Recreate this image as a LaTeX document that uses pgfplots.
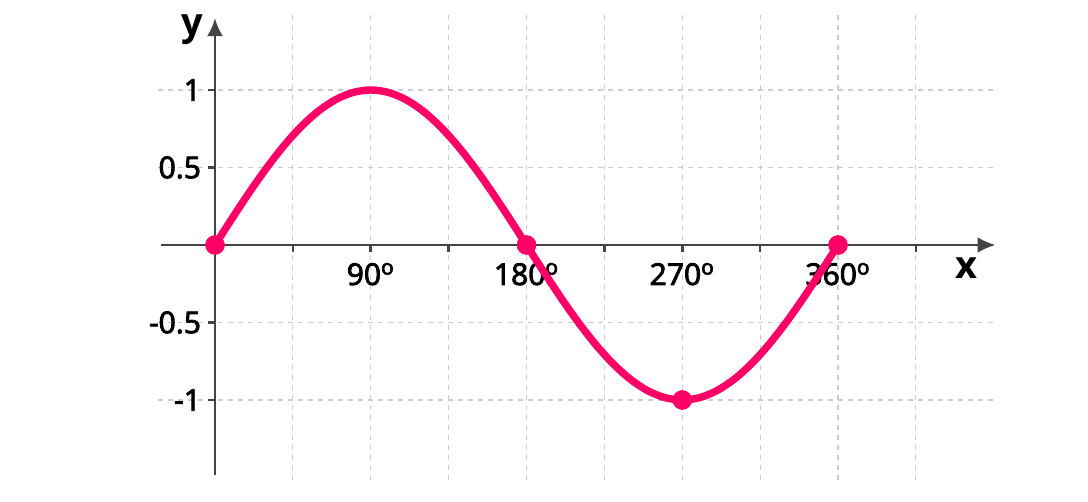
\documentclass[border=0pt]{standalone}
\usepackage{fontspec}
\setmainfont{Open Sans}
\newfontfamily\semib{Open Sans}[FakeBold=3]
\usepackage{pgfplots}
\pgfplotsset{compat=1.18}
\usetikzlibrary{arrows.meta}
\definecolor{curve}{RGB}{255,0,102}
\definecolor{axisgray}{RGB}{68,68,68}
\definecolor{gridgray}{RGB}{204,204,204}

\begin{document}
\begin{tikzpicture}
\begin{axis}[
    anchor=origin, at={(0,0)},
    x=0.8653pt, y=77.5pt,
    xmin=-33, xmax=451,
    ymin=-1.515, ymax=1.515,
    axis lines=middle,
    axis line style={draw=axisgray, line width=1.3pt, -{Latex[length=9pt,width=8pt]}},
    x axis line style={shorten <=1.5pt},
    y axis line style={shorten <=2.5pt, shorten >=4pt},
    tick align=outside,
    major tick length=3.5pt,
    tick style={draw=axisgray, line width=1.3pt},
    xtick={0,45,...,405},
    xticklabels={,,90\textsuperscript{o},,180\textsuperscript{o},,270\textsuperscript{o},,360\textsuperscript{o},},
    ytick={-1,-0.5,0,0.5,1},
    yticklabels={-1,-0.5,,0.5,1},
    grid=major,
    major grid style={draw=gridgray, line width=0.6pt, dash pattern=on 2.5pt off 2.5pt},
    xticklabel style={font=\semib\fontsize{15}{18}\selectfont, yshift=-2pt},
    yticklabel style={font=\semib\fontsize{15}{18}\selectfont},
    clip=false,
]
\addplot[curve, line width=3.7pt, smooth, line cap=round] coordinates {
    (0,0) (10,0.1736) (20,0.3420) (30,0.5) (40,0.6428) (50,0.7660)
    (60,0.8660) (70,0.9397) (80,0.9848) (90,1) (100,0.9848) (110,0.9397)
    (120,0.8660) (130,0.7660) (140,0.6428) (150,0.5) (160,0.3420) (170,0.1736)
    (180,0) (190,-0.1736) (200,-0.3420) (210,-0.5) (220,-0.6428) (230,-0.7660)
    (240,-0.8660) (250,-0.9397) (260,-0.9848) (270,-1) (280,-0.9848) (290,-0.9397)
    (300,-0.8660) (310,-0.7660) (320,-0.6428) (330,-0.5) (340,-0.3420) (350,-0.1736)
    (360,0) (361.5,0.03)
};
\addplot[only marks, mark=*, mark size=4.7pt, color=curve] coordinates {
    (0,0) (180,0) (270,-1) (360,0)
};
\node[font=\bfseries\fontsize{19}{22}\selectfont] at (axis cs:-13.3,1.387) {y};
\node[font=\bfseries\fontsize{19}{22}\selectfont] at (axis cs:434.5,-0.148) {x};
\end{axis}
\path[use as bounding box] (-107.5pt,-128.5pt) rectangle (436.5pt,122.5pt);
\end{tikzpicture}
\end{document}
